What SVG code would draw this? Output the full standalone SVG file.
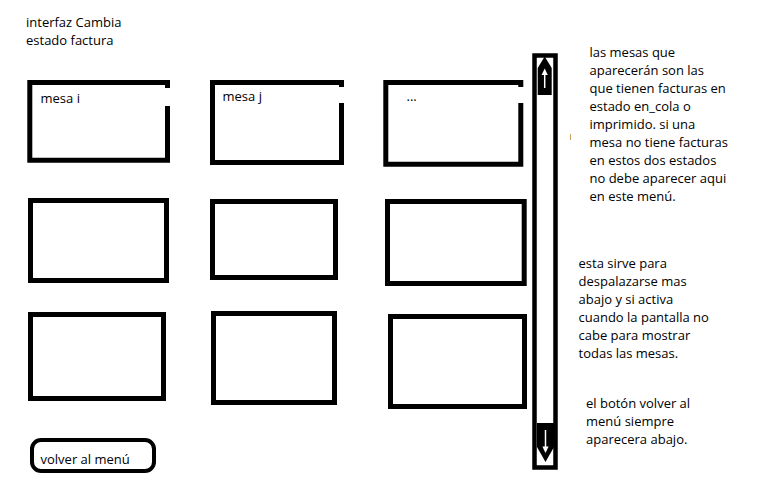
<svg xmlns="http://www.w3.org/2000/svg" width="768" height="480" viewBox="0 0 768 480">
<style>
.t{font-family:"Open Sans","Noto Sans","DejaVu Sans",sans-serif;font-size:13px;fill:#000}
.box{fill:none;stroke:#000;stroke-width:5;stroke-linejoin:miter}
</style>
<rect x="0" y="0" width="768" height="480" fill="#fff"/>
<g id="title">
<text class="t" x="26" y="27">interfaz Cambia</text>
<text class="t" x="26" y="45">estado factura</text>
</g>
<g id="mesa-i">
<path class="box" d="M167.5,88 V82.5 H29.8 V160.2 H167.5 V106"/>
<text class="t" x="40.5" y="103">mesa i</text>
</g>
<g id="mesa-j">
<path class="box" d="M341.5,87 V82.5 H212.5 V162.5 H341.5 V103"/>
<text class="t" x="222.5" y="101">mesa j</text>
</g>
<g id="mesa-more">
<path class="box" d="M520.8,87 V82.5 H385.8 V164.2 H520.8 V103"/>
<text class="t" x="406.5" y="101">...</text>
</g>
<g id="mesa-4"><rect class="box" x="30.5" y="200.5" width="136" height="80"/></g>
<g id="mesa-5"><rect class="box" x="212.5" y="201.5" width="123" height="76"/></g>
<g id="mesa-6"><rect class="box" x="387.5" y="201.5" width="136.7" height="82"/></g>
<g id="mesa-7"><rect class="box" x="30.5" y="314.5" width="133" height="84"/></g>
<g id="mesa-8"><rect class="box" x="213.5" y="313.5" width="121" height="89"/></g>
<g id="mesa-9"><rect class="box" x="390.5" y="316.5" width="134" height="90"/></g>
<g id="scrollbar">
<rect x="534.5" y="55.5" width="21" height="412" fill="none" stroke="#000" stroke-width="4.5"/>
<polygon points="544.7,56.5 551.7,68 551.7,95 537.7,95 537.7,68" fill="#000"/>
<line x1="544.7" y1="73" x2="544.7" y2="88" stroke="#fff" stroke-width="1.5"/>
<polygon points="544.7,68.5 541.6,75 547.8,75" fill="#fff"/>
<polygon points="537,423 554,423 554,447 545.5,462 537,447" fill="#000"/>
<line x1="545.5" y1="430" x2="545.5" y2="447" stroke="#fff" stroke-width="1.5"/>
<polygon points="545.5,453 542.4,446.5 548.6,446.5" fill="#fff"/>
</g>
<g id="volver">
<rect x="32" y="440" width="122" height="31" rx="9" ry="9" fill="none" stroke="#000" stroke-width="4"/>
<text class="t" x="40.5" y="464">volver al menú</text>
</g>
<g id="notes">
<text class="t" x="589.5" y="57">las mesas que</text>
<text class="t" x="589.5" y="75">aparecerán son las</text>
<text class="t" x="589.5" y="93">que tienen facturas en</text>
<text class="t" x="589.5" y="111">estado en_cola o</text>
<text class="t" x="589.5" y="129">imprimido. si una</text>
<text class="t" x="589.5" y="147">mesa no tiene facturas</text>
<text class="t" x="589.5" y="165">en estos dos estados</text>
<text class="t" x="589.5" y="183">no debe aparecer aqui</text>
<text class="t" x="589.5" y="201">en este menú.</text>
<text class="t" x="578.5" y="268">esta sirve para</text>
<text class="t" x="578.5" y="286">despalazarse mas</text>
<text class="t" x="578.5" y="304">abajo y si activa</text>
<text class="t" x="578.5" y="322">cuando la pantalla no</text>
<text class="t" x="578.5" y="340">cabe para mostrar</text>
<text class="t" x="578.5" y="358">todas las mesas.</text>
<text class="t" x="586" y="408">el botón volver al</text>
<text class="t" x="586" y="426">menú siempre</text>
<text class="t" x="586" y="444">aparecera abajo.</text>
</g>
<line x1="570.5" y1="134" x2="570.5" y2="140" stroke="#c8a060" stroke-width="1"/>
</svg>
